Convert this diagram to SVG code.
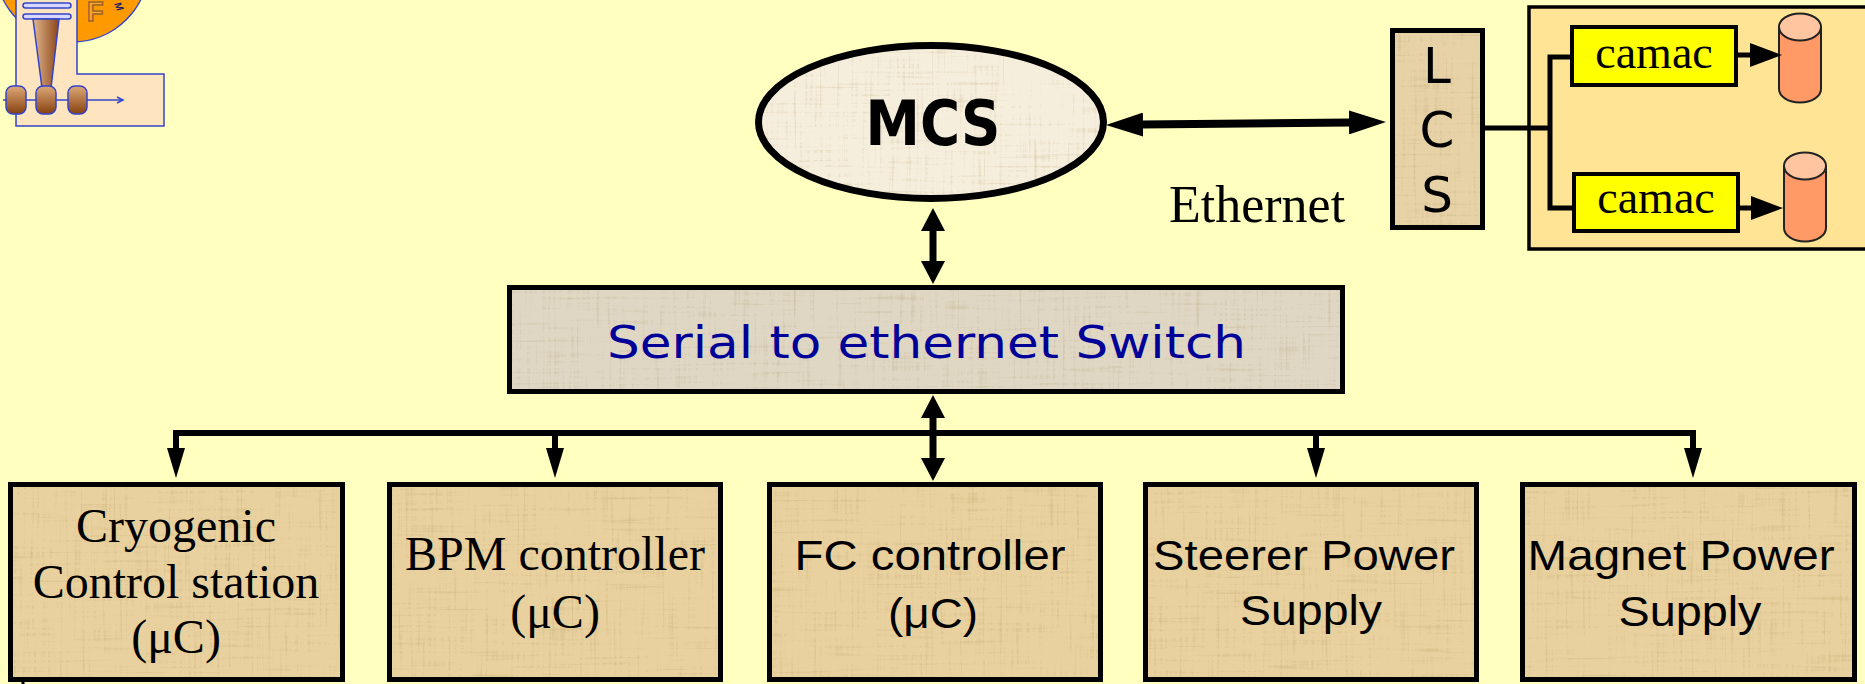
<svg xmlns="http://www.w3.org/2000/svg" width="1865" height="684" viewBox="0 0 1865 684">
  <style>
    .frame { fill: none; stroke: #000; stroke-width: 5; }
    .wire { fill: none; stroke: #000; stroke-linejoin: miter; }
    .serif { font-family: "Liberation Serif", "Times New Roman", serif; font-size: 48px; fill: #000; text-anchor: middle; }
    .sans { font-family: "Liberation Sans", Arial, sans-serif; font-size: 43px; fill: #000; text-anchor: middle; }
    .hand { font-family: "DejaVu Sans", sans-serif; fill: #000; text-anchor: middle; }
    .logo-line { stroke: #3344CC; stroke-width: 1.5; }
  </style>
  <defs>
    <!-- papyrus-like fibre texture laid over a flat fill -->
    <filter id="paper" x="0" y="0" width="1" height="1" color-interpolation-filters="sRGB">
      <feTurbulence type="fractalNoise" baseFrequency="0.015 0.35" numOctaves="2" seed="4" result="a"/>
      <feTurbulence type="fractalNoise" baseFrequency="0.35 0.015" numOctaves="2" seed="9" result="b"/>
      <feBlend in="a" in2="b" mode="multiply" result="ab"/>
      <feColorMatrix in="ab" type="matrix" values="0 0 0 0 0.62  0 0 0 0 0.5  0 0 0 0 0.28  -0.9 0 0 0 0.34" result="fib"/>
      <feComposite in="fib" in2="SourceGraphic" operator="in" result="tex"/>
      <feMerge><feMergeNode in="SourceGraphic"/><feMergeNode in="tex"/></feMerge>
    </filter>
    <linearGradient id="coneGrad" x1="0" y1="0" x2="1" y2="0">
      <stop offset="0" stop-color="#E2B78E"/>
      <stop offset="1" stop-color="#8A4518"/>
    </linearGradient>
    <linearGradient id="rollGrad" x1="0" y1="0" x2="0" y2="1">
      <stop offset="0" stop-color="#DDA878"/>
      <stop offset="1" stop-color="#86410F"/>
    </linearGradient>
    <marker id="hBig" markerUnits="userSpaceOnUse" viewBox="0 0 23 24" markerWidth="23" markerHeight="24" refX="1" refY="12" orient="auto-start-reverse">
      <path d="M0,0 L23,12 L0,24 Z" fill="#000"/>
    </marker>
    <marker id="hEth" markerUnits="userSpaceOnUse" viewBox="0 0 37 24" markerWidth="37" markerHeight="24" refX="1" refY="12" orient="auto-start-reverse">
      <path d="M0,0 L37,12 L0,24 Z" fill="#000"/>
    </marker>
    <marker id="hDrop" markerUnits="userSpaceOnUse" viewBox="0 0 30 18" markerWidth="30" markerHeight="18" refX="1" refY="9" orient="auto">
      <path d="M0,0 L30,9 L0,18 Z" fill="#000"/>
    </marker>
    <marker id="hCam" markerUnits="userSpaceOnUse" viewBox="0 0 32 24" markerWidth="32" markerHeight="24" refX="1" refY="12" orient="auto">
      <path d="M0,0 L32,12 L0,24 Z" fill="#000"/>
    </marker>
  </defs>

  <rect x="0" y="0" width="1865" height="684" fill="#FFFFC0"/>

  <!-- emblem, upper left corner -->
  <g id="emblem">
    <circle cx="72" cy="-35" r="77" fill="#FF9900" class="logo-line"/>
    <text x="87" y="21" font-family="Liberation Sans, sans-serif" font-weight="bold" font-size="27" fill="#FFA526" stroke="#A0662A" stroke-width="1.5">F</text>
    <text x="0" y="0" transform="translate(114,4) rotate(65)" font-family="Liberation Sans, sans-serif" font-style="italic" font-weight="bold" font-size="10" fill="#1A1A66">M</text>
    <path d="M16,-2 V126 H164 V74 H77 V-2 Z" fill="#FFE5BF" class="logo-line"/>
    <rect x="23" y="3" width="48" height="5" rx="2.5" fill="#D8D8FF" class="logo-line"/>
    <rect x="23" y="14" width="48" height="5" rx="2.5" fill="#D8D8FF" class="logo-line"/>
    <polygon points="33,19 59,19 51,88 42,88" fill="url(#coneGrad)" class="logo-line"/>
    <path d="M3,100 H123" class="logo-line" fill="none"/>
    <path d="M117,97 L123,100 L117,103" class="logo-line" fill="none"/>
    <rect x="6" y="86" width="20" height="28" rx="7" fill="url(#rollGrad)" class="logo-line"/>
    <rect x="36" y="86" width="20" height="28" rx="7" fill="url(#rollGrad)" class="logo-line"/>
    <rect x="68" y="86" width="19" height="28" rx="7" fill="url(#rollGrad)" class="logo-line"/>
  </g>

  <!-- main control system -->
  <g id="mcs">
    <ellipse cx="931" cy="122" rx="172.5" ry="76.5" fill="#F6EEDC" filter="url(#paper)"/>
    <ellipse cx="931" cy="122" rx="172.5" ry="76.5" fill="none" stroke="#000" stroke-width="7"/>
    <text x="933" y="145" class="hand" font-weight="bold" font-size="62" textLength="135" lengthAdjust="spacingAndGlyphs">MCS</text>
  </g>

  <g id="ethernet-label">
    <text x="1169" y="222" class="serif" style="font-size:52px; text-anchor:start">Ethernet</text>
  </g>

  <!-- serial to ethernet switch -->
  <g id="switch">
    <rect x="509.5" y="287.5" width="833" height="104" fill="#DFD7C4" filter="url(#paper)"/>
    <rect x="509.5" y="287.5" width="833" height="104" class="frame"/>
    <text x="926.5" y="358" class="hand" font-size="44" style="fill:#000099" textLength="639" lengthAdjust="spacingAndGlyphs">Serial to ethernet Switch</text>
  </g>

  <!-- local control station -->
  <g id="lcs">
    <rect x="1392.5" y="30.5" width="90" height="197" fill="#E6D2A6" filter="url(#paper)"/>
    <rect x="1392.5" y="30.5" width="90" height="197" class="frame"/>
    <text x="1437" y="83" class="hand" font-size="50">L</text>
    <text x="1437" y="147" class="hand" font-size="50">C</text>
    <text x="1437" y="212" class="hand" font-size="50">S</text>
  </g>

  <!-- CAMAC crates with their data stores -->
  <g id="camac-area">
    <rect x="1529" y="7" width="345" height="242" fill="#FFE495" stroke="#000" stroke-width="3.5"/>
  </g>
  <g id="camac-1">
    <rect x="1572" y="27" width="164" height="58" fill="#FFFF00" stroke="#000" stroke-width="4"/>
    <text x="1654" y="68" class="serif" style="font-size:46px">camac</text>
  </g>
  <g id="camac-2">
    <rect x="1574" y="174" width="164" height="57" fill="#FFFF00" stroke="#000" stroke-width="4"/>
    <text x="1656" y="213" class="serif" style="font-size:46px">camac</text>
  </g>
  <g id="store-1">
    <path d="M1779,27 V89 A21,13.5 0 0 0 1821,89 V27 Z" fill="#FF9966" stroke="#222" stroke-width="2"/>
    <ellipse cx="1800" cy="27" rx="21" ry="13.5" fill="#FFC4A0" stroke="#222" stroke-width="2"/>
  </g>
  <g id="store-2">
    <path d="M1784,166 V228 A21,13.5 0 0 0 1826,228 V166 Z" fill="#FF9966" stroke="#222" stroke-width="2"/>
    <ellipse cx="1805" cy="166" rx="21" ry="13.5" fill="#FFC4A0" stroke="#222" stroke-width="2"/>
  </g>

  <!-- field controllers -->
  <g id="cryogenic">
    <rect x="10.5" y="484.5" width="332" height="195" fill="#E8D19E" filter="url(#paper)"/>
    <rect x="10.5" y="484.5" width="332" height="195" class="frame"/>
    <text x="176" y="542" class="serif">Cryogenic</text>
    <text x="176" y="598" class="serif">Control station</text>
    <text x="176" y="653" class="serif">(μC)</text>
  </g>
  <g id="bpm">
    <rect x="389.5" y="484.5" width="331" height="195" fill="#E8D19E" filter="url(#paper)"/>
    <rect x="389.5" y="484.5" width="331" height="195" class="frame"/>
    <text x="555" y="570" class="serif">BPM controller</text>
    <text x="555" y="628" class="serif">(μC)</text>
  </g>
  <g id="fc">
    <rect x="769.5" y="484.5" width="331" height="195" fill="#E8D19E" filter="url(#paper)"/>
    <rect x="769.5" y="484.5" width="331" height="195" class="frame"/>
    <text x="930" y="570" class="sans" textLength="271" lengthAdjust="spacingAndGlyphs">FC controller</text>
    <text x="933" y="628" class="sans" textLength="90" lengthAdjust="spacingAndGlyphs">(μC)</text>
  </g>
  <g id="steerer">
    <rect x="1145.5" y="484.5" width="331" height="195" fill="#E8D19E" filter="url(#paper)"/>
    <rect x="1145.5" y="484.5" width="331" height="195" class="frame"/>
    <text x="1304" y="570" class="sans" textLength="302" lengthAdjust="spacingAndGlyphs">Steerer Power</text>
    <text x="1311" y="625" class="sans" textLength="142" lengthAdjust="spacingAndGlyphs">Supply</text>
  </g>
  <g id="magnet">
    <rect x="1522.5" y="484.5" width="332" height="195" fill="#E8D19E" filter="url(#paper)"/>
    <rect x="1522.5" y="484.5" width="332" height="195" class="frame"/>
    <text x="1681" y="570" class="sans" textLength="307" lengthAdjust="spacingAndGlyphs">Magnet Power</text>
    <text x="1690" y="626" class="sans" textLength="143" lengthAdjust="spacingAndGlyphs">Supply</text>
  </g>

  <g id="connectors">
    <!-- MCS <-> LCS over Ethernet -->
    <path d="M1142,124.6 L1350,122.4" class="wire" stroke-width="8" marker-start="url(#hEth)" marker-end="url(#hEth)"/>
    <!-- MCS <-> switch -->
    <path d="M933,230 V262" class="wire" stroke-width="7" marker-start="url(#hBig)" marker-end="url(#hBig)"/>
    <!-- switch <-> FC controller -->
    <path d="M933,417 V459" class="wire" stroke-width="7" marker-start="url(#hBig)" marker-end="url(#hBig)"/>
    <!-- distribution bus -->
    <path d="M1696,433 H176 V449" class="wire" stroke-width="6" marker-end="url(#hDrop)"/>
    <path d="M555,433 V449" class="wire" stroke-width="6" marker-end="url(#hDrop)"/>
    <path d="M1316,433 V449" class="wire" stroke-width="6" marker-end="url(#hDrop)"/>
    <path d="M1693,433 V449" class="wire" stroke-width="6" marker-end="url(#hDrop)"/>
    <!-- LCS to CAMAC crates -->
    <path d="M1485,128 H1550" class="wire" stroke-width="5"/>
    <path d="M1572,57 H1550 V208 H1574" class="wire" stroke-width="5"/>
    <!-- crates to stores -->
    <path d="M1736,55 H1751" class="wire" stroke-width="5" marker-end="url(#hCam)"/>
    <path d="M1738,208 H1752" class="wire" stroke-width="5" marker-end="url(#hCam)"/>
    <!-- stub at the lower edge -->
    <path d="M23,681 V684" class="wire" stroke-width="3"/>
  </g>
</svg>
